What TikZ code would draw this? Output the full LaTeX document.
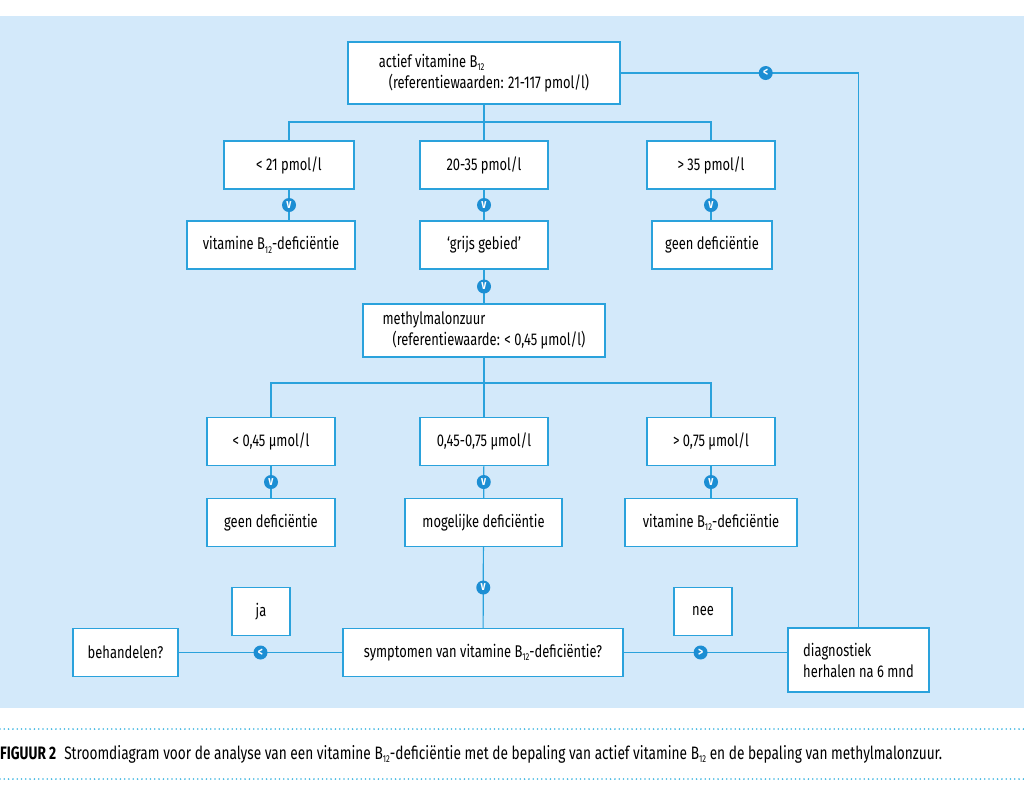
\documentclass[tikz,border=0pt]{standalone}
\usepackage{fontspec}
\setmainfont[FakeStretch=0.76]{Fira Sans}
\usepackage{tikz}
\usetikzlibrary{positioning}

\definecolor{achtergrond}{HTML}{D3E9FA}
\definecolor{lijn}{HTML}{2AA2DC}
\definecolor{knop}{HTML}{1C8ED3}
\definecolor{stip}{HTML}{3AB4E0}
\newcommand{\Btw}{B\raisebox{-3.5pt}{\fontsize{10}{10}\selectfont 12}}

\begin{document}
\begin{tikzpicture}[x=1pt, y=-1pt,
    vak/.style={draw=lijn, fill=white, line width=1.2pt, inner sep=0pt, align=center,
        minimum height=48pt, font=\fontsize{17}{21}\selectfont},
    pijl/.style={circle, fill=knop, text=white, inner sep=0pt, minimum size=14pt,
        font=\bfseries\fontsize{13}{13}\selectfont},
    verbinding/.style={draw=lijn, line width=1.2pt},
    stippel/.style={draw=stip, line width=1.8pt, line cap=round, dash pattern=on 0pt off 4.3pt}]
    \useasboundingbox (0,0) rectangle (1024,788);
    \fill[achtergrond] (0,16) rectangle (1024,708);

    % eerste meting
    \node (actief) [vak, align=left, minimum width=272pt, minimum height=62pt] at (484,73)
        {actief vitamine \Btw\\\hspace{10pt}(referentiewaarden: 21-117 pmol/l)};
    \node (lo21) [vak, minimum width=130pt] at (289,165) {< 21 pmol/l};
    \node (mid35) [vak, minimum width=128pt] at (484,165) {20-35 pmol/l};
    \node (hi35) [vak, minimum width=128pt] at (711,165) {> 35 pmol/l};
    \node (def1) [vak, minimum width=168pt] at (271,245) {vitamine \Btw-deficiëntie};
    \node (grijs) [vak, minimum width=128pt] at (484,245) {‘grijs gebied’};
    \node (geen1) [vak, minimum width=120pt] at (712,245) {geen deficiëntie};

    % tweede meting
    \node (mma) [vak, align=left, minimum width=242pt, minimum height=53pt] at (484,330.5)
        {methylmalonzuur\\\hspace{10pt}(referentiewaarde: < 0,45 µmol/l)};
    \node (lo045) [vak, minimum width=128pt] at (271,441.5) {< 0,45 µmol/l};
    \node (mid075) [vak, minimum width=128pt] at (484,441.5) {0,45-0,75 µmol/l};
    \node (hi075) [vak, minimum width=128pt] at (711,441.5) {> 0,75 µmol/l};
    \node (geen2) [vak, minimum width=128pt] at (271,522.5) {geen deficiëntie};
    \node (mogelijk) [vak, minimum width=157pt] at (483.5,522.5) {mogelijke deficiëntie};
    \node (def2) [vak, minimum width=172pt] at (711,522.5) {vitamine \Btw-deficiëntie};

    % symptomen
    \node (symp) [vak, minimum width=280pt] at (483,652.5) {symptomen van vitamine \Btw-deficiëntie?};
    \node (behandel) [vak, minimum width=105pt] at (125.5,652.5) {behandelen?};
    \node (ja) [vak, minimum width=58pt] at (261,611.5) {ja};
    \node (nee) [vak, minimum width=58pt] at (703,611.5) {nee};
    \node (diag) [vak, align=left, minimum width=141pt, minimum height=64pt] at (858.5,660)
        {diagnostiek\\herhalen na 6 mnd};

    \coordinate (split1) at (484,122);
    \coordinate (split2) at (484,383);

    \draw[verbinding] (actief) -- (split1);
    \draw[verbinding] (split1) -| (lo21);
    \draw[verbinding] (split1) -- (mid35);
    \draw[verbinding] (split1) -| (hi35);
    \draw[verbinding] (lo21.south) -- node[pijl] {v} (lo21.south |- def1.north);
    \draw[verbinding] (mid35) -- node[pijl] {v} (grijs);
    \draw[verbinding] (hi35.south) -- node[pijl] {v} (hi35.south |- geen1.north);
    \draw[verbinding] (grijs) -- node[pijl] {v} (mma);

    \draw[verbinding] (mma) -- (split2);
    \draw[verbinding] (split2) -| (lo045);
    \draw[verbinding] (split2) -- (mid075);
    \draw[verbinding] (split2) -| (hi075);
    \draw[verbinding] (lo045) -- node[pijl] {v} (geen2);
    \draw[verbinding] (mid075) -- node[pijl] {v} (mogelijk);
    \draw[verbinding] (hi075) -- node[pijl] {v} (def2);
    \draw[verbinding] (mogelijk) -- node[pijl] {v} (symp);

    \draw[verbinding] (symp) -- node[pijl] {<} (behandel);
    \draw[verbinding] (symp.east) -- node[pijl, pos=0.47] {>} (symp.east -| diag.west);
    \draw[verbinding] (diag.north) |- node[pijl, pos=0.695] {<} (actief.east);

    % onderschrift
    \draw[stippel] (0,729) -- (1024,729);
    \draw[stippel] (0,779) -- (1024,779);
    \node (onderschrift) [anchor=west, inner sep=0pt, font=\fontsize{18}{21}\selectfont] at (0,754)
        {\textbf{FIGUUR 2}\hspace{8pt}Stroomdiagram voor de analyse van een vitamine \Btw-deficiëntie met de bepaling van actief vitamine \Btw{} en de bepaling van methylmalonzuur.};
\end{tikzpicture}
\end{document}
